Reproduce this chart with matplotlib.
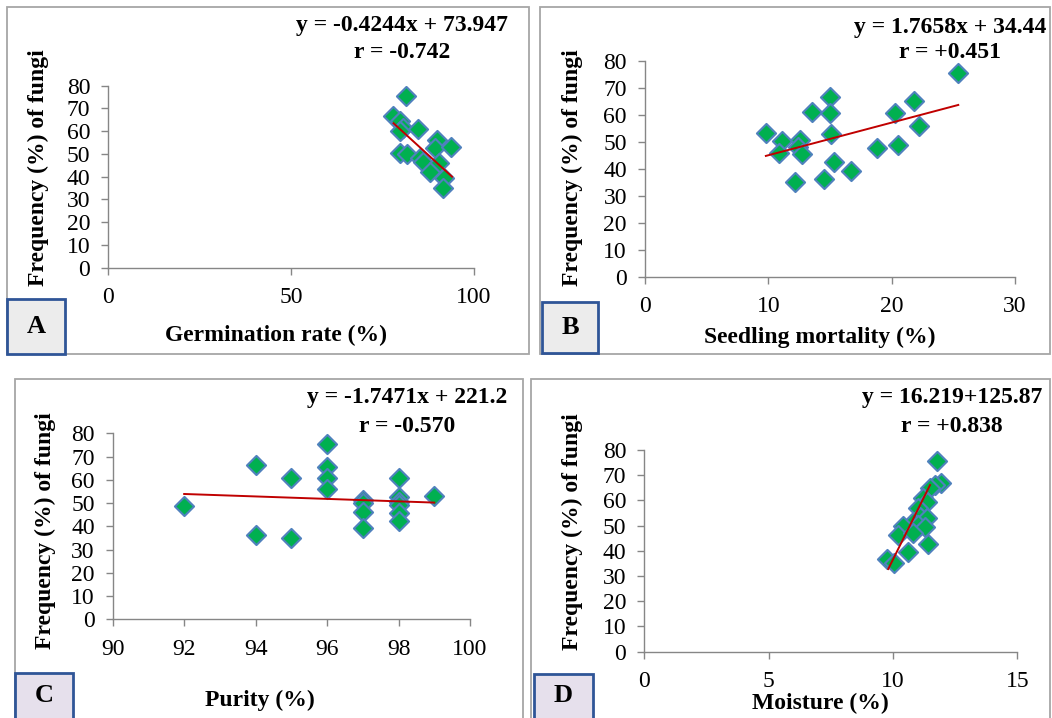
import matplotlib
matplotlib.use("Agg")
import matplotlib.pyplot as plt
from matplotlib.patches import Rectangle

plt.rcParams["font.family"] = ["Liberation Serif", "DejaVu Serif"]

W, H = 1052, 718

# A: germination rate vs fungi frequency
germ_x = [81.4, 77.8, 79.8, 80.7, 79.8, 84.8, 89.8, 89.3, 93.7, 79.8, 81.8,
          85.2, 86.0, 90.5, 88.0, 91.8, 91.6]
germ_y = [75.6, 66.8, 64.6, 61.5, 60.0, 60.8, 56.1, 52.5, 53.0, 50.5, 49.8,
          48.0, 46.6, 46.2, 42.2, 39.3, 34.9]
germ_fit_x = [78.0, 94.0]
germ_fit_y = [63.5, 40.0]

# B: seedling mortality
mort_x = [9.8, 11.1, 10.9, 12.2, 12.6, 12.4, 12.7, 13.5, 15.0, 15.0, 15.1,
          15.3, 14.5, 16.7, 18.8, 20.3, 20.5, 21.8, 22.2, 25.4]
mort_y = [53.4, 50.3, 45.7, 35.2, 50.7, 48.2, 45.5, 61.0, 66.8, 60.6, 52.8,
          42.4, 36.2, 39.2, 47.6, 60.8, 48.8, 65.2, 56.0, 75.4]
mort_fit_x = [9.8, 25.4]
mort_fit_y = [44.8, 63.7]

# C: purity
pur_x = [92, 94, 94, 95, 95, 96, 96, 96, 96, 97, 97, 97, 97,
         98, 98, 98, 98, 98, 98, 99]
pur_y = [48.7, 66.4, 36.3, 60.9, 35.1, 75.4, 65.4, 60.6, 55.9, 51.3, 49.9, 46.0, 39.1,
         60.6, 52.8, 50.6, 49.2, 45.9, 42.4, 53.0]
pur_fit_x = [92.0, 99.0]
pur_fit_y = [53.9, 50.2]

# D: moisture
moist_x = [11.78, 11.92, 11.69, 11.49, 11.22, 11.35, 11.02, 11.09, 11.35, 10.82,
           11.02, 11.29, 10.39, 10.21, 10.82, 10.62, 11.42, 9.77, 10.04]
moist_y = [75.6, 67.0, 66.1, 64.8, 60.8, 59.5, 56.9, 53.6, 52.9, 51.6,
           50.2, 49.6, 49.9, 46.3, 46.9, 39.7, 42.7, 36.6, 35.0]
moist_fit_x = [9.81, 11.49]
moist_fit_y = [32.8, 66.1]

panels = [
    dict(x=germ_x, y=germ_y, fx=germ_fit_x, fy=germ_fit_y, xlim=(0, 100), xticks=[0, 50, 100],
         ax=(108.3, 85.7, 474, 267.7), frame=(7, 7, 529, 354),
         eq=["y = -0.4244x + 73.947", "r = -0.742"], eqpos=(402, 25, 53),
         xlabel="Germination rate (%)", xlpos=(276, 335), ylpos=(38, 168),
         tag="A", tagbox=(7, 299, 65, 354), tagcol="#ececec"),
    dict(x=mort_x, y=mort_y, fx=mort_fit_x, fy=mort_fit_y, xlim=(0, 30), xticks=[0, 10, 20, 30],
         ax=(645, 61, 1015, 276.7), frame=(540, 7, 1050, 354),
         eq=["y = 1.7658x + 34.44", "r = +0.451"], eqpos=(950, 27, 53),
         xlabel="Seedling mortality (%)", xlpos=(820, 337), ylpos=(572, 168),
         tag="B", tagbox=(542, 302, 598, 353), tagcol="#ececec"),
    dict(x=pur_x, y=pur_y, fx=pur_fit_x, fy=pur_fit_y, xlim=(90, 100), xticks=[90, 92, 94, 96, 98, 100],
         ax=(112.7, 433.3, 470, 619.3), frame=(15, 379, 523, 725),
         eq=["y = -1.7471x + 221.2", "r = -0.570"], eqpos=(407, 398, 427),
         xlabel="Purity (%)", xlpos=(260, 700), ylpos=(45, 531),
         tag="C", tagbox=(15, 673, 73, 725), tagcol="#e6e0ec"),
    dict(x=moist_x, y=moist_y, fx=moist_fit_x, fy=moist_fit_y, xlim=(0, 15), xticks=[0, 5, 10, 15],
         ax=(644.3, 450, 1017.3, 651.7), frame=(531, 379, 1050, 725),
         eq=["y = 16.219+125.87", "r = +0.838"], eqpos=(952, 398, 427),
         xlabel="Moisture (%)", xlpos=(820, 703), ylpos=(572, 532),
         tag="D", tagbox=(534, 674, 593, 725), tagcol="#e6e0ec"),
]

fig = plt.figure(figsize=(W / 100, H / 100), dpi=100)


def fx(px):
    return px / W


def fy(py):
    return 1 - py / H


for p in panels:
    x0, y0, x1, y1 = p["frame"]
    fig.add_artist(Rectangle((fx(x0), fy(y1)), fx(x1 - x0), (y1 - y0) / H,
                             transform=fig.transFigure, fill=False, ec="#a6a6a6", lw=1.3))

    l, t, r, b = p["ax"]
    ax = fig.add_axes([fx(l), fy(b), fx(r - l), (b - t) / H])
    ax.scatter(p["x"], p["y"], marker="D", s=95, c="#00b050", edgecolors="#4f81bd",
               linewidths=1.5, zorder=3)
    ax.plot(p["fx"], p["fy"], color="#c00000", lw=1.4, zorder=4)
    ax.set_xlim(*p["xlim"])
    ax.set_ylim(0, 80)
    ax.set_xticks(p["xticks"])
    ax.set_yticks(range(0, 81, 10))
    for side in ["top", "right"]:
        ax.spines[side].set_visible(False)
    for side in ["left", "bottom"]:
        ax.spines[side].set_color("#868686")
        ax.spines[side].set_linewidth(1.0)
    ax.tick_params(direction="out", length=5, width=1.0, color="#868686", labelsize=17)
    ax.tick_params(axis="y", pad=8)
    ax.tick_params(axis="x", pad=9)
    ax.patch.set_alpha(0)

    ex, ey1, ey2 = p["eqpos"]
    fig.text(fx(ex), fy(ey1), p["eq"][0], ha="center", va="center", fontsize=17, fontweight="bold")
    fig.text(fx(ex), fy(ey2), p["eq"][1], ha="center", va="center", fontsize=17, fontweight="bold")
    fig.text(fx(p["xlpos"][0]), fy(p["xlpos"][1]), p["xlabel"], ha="center", va="center",
             fontsize=17, fontweight="bold")
    fig.text(fx(p["ylpos"][0]), fy(p["ylpos"][1]), "Frequency (%) of fungi", ha="center",
             va="center", rotation=90, fontsize=17, fontweight="bold")

    bx0, by0, bx1, by1 = p["tagbox"]
    fig.add_artist(Rectangle((fx(bx0), fy(by1)), fx(bx1 - bx0), (by1 - by0) / H,
                             transform=fig.transFigure, fc=p["tagcol"], ec="#2f5597", lw=2, zorder=5))
    fig.text(fx((bx0 + bx1) / 2), fy(min(by1, 718) / 2 + by0 / 2), p["tag"], ha="center", va="center",
             fontsize=19, fontweight="bold", zorder=6)

fig.savefig("out.png", dpi=100)
